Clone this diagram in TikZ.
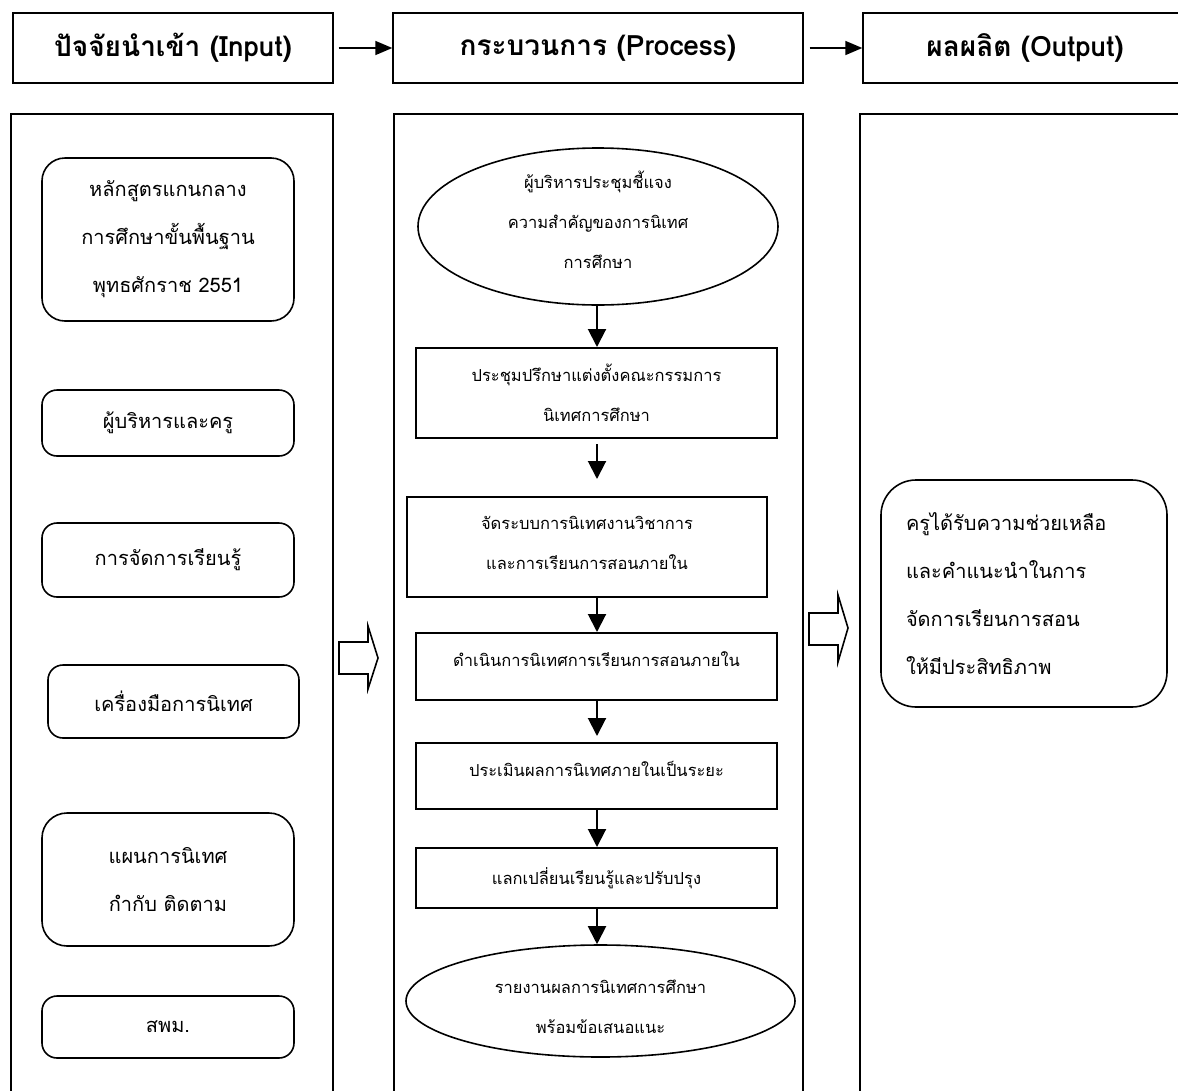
\documentclass[tikz,border=0pt]{standalone}
\usepackage{fontspec}
\setmainfont[Script=Thai]{Loma}
\usetikzlibrary{arrows.meta,shapes.geometric}
\begin{document}
\begin{tikzpicture}[x=1pt,y=-1pt,
  hdr/.style={draw,line width=1.4pt,rectangle,minimum height=70pt,inner sep=0pt,font=\fontsize{28}{32}\selectfont\bfseries},
  panel/.style={draw,line width=1.4pt},
  inbox/.style={draw,line width=1.6pt,inner sep=0pt,align=center,font=\fontsize{20}{48}\selectfont},
  prbox/.style={draw,line width=2pt,rectangle,inner sep=0pt,align=center,font=\fontsize{16.5}{40}\selectfont},
  prell/.style={draw,line width=1.6pt,ellipse,inner sep=0pt},
  prtext/.style={inner sep=0pt,align=center,font=\fontsize{16.5}{40}\selectfont},
  flow/.style={line width=2pt,-{Triangle[width=18pt,length=18pt]}},
  harr/.style={line width=1.6pt,-{Triangle[width=14pt,length=17pt]}},
  blockarr/.style={draw,line width=1.6pt,fill=white}
]
\useasboundingbox (0,0) rectangle (1178,1090);
\begin{scope}
\clip (0,0) rectangle (1178,1090);
% headers
\node[hdr,minimum width=320pt] (hin) at (173,48) {ปัจจัยนำเข้า (Input)};
\node[hdr,minimum width=410pt] (hpr) at (598,48) {กระบวนการ (Process)};
\node[hdr,minimum width=324pt] (hout) at (1025,48) {ผลผลิต (Output)};
\draw[harr] ([xshift=5pt]hin.east) -- (hpr.west);
\draw[harr] ([xshift=6pt]hpr.east) -- (hout.west);
% panels
\draw[panel] (11,1100) -- (11,114) -- (333,114) -- (333,1100);
\draw[panel] (394,1100) -- (394,114) -- (803,114) -- (803,1100);
\draw[panel] (860,1100) -- (860,114) -- (1200,114);
% input boxes
\node[inbox,rounded corners=23pt,minimum width=252pt,minimum height=163pt] (b1) at (168,239.5) {หลักสูตรแกนกลาง\\การศึกษาขั้นพื้นฐาน\\พุทธศักราช 2551};
\node[inbox,rounded corners=15pt,minimum width=252pt,minimum height=66pt] (b2) at (168,423) {ผู้บริหารและครู};
\node[inbox,rounded corners=15pt,minimum width=252pt,minimum height=74pt] (b3) at (168,560) {การจัดการเรียนรู้};
\node[inbox,rounded corners=15pt,minimum width=251pt,minimum height=73pt] (b4) at (173.5,701.5) {เครื่องมือการนิเทศ};
\node[inbox,rounded corners=25pt,minimum width=252pt,minimum height=133pt] (b5) at (168,879.5) {แผนการนิเทศ\\กำกับ ติดตาม};
\node[inbox,rounded corners=15pt,minimum width=252pt,minimum height=62pt] (b6) at (168,1027) {สพม.};
% process
\node[prell,minimum width=360pt,minimum height=157pt] (e1) at (598,226.5) {};
\node[prtext] (t1) at (598,220) {ผู้บริหารประชุมชี้แจง\\ความสำคัญของการนิเทศ\\การศึกษา};
\node[prbox,minimum width=361pt,minimum height=90pt] (m2) at (596.5,393) {ประชุมปรึกษาแต่งตั้งคณะกรรมการ\\นิเทศการศึกษา};
\node[prbox,minimum width=360pt,minimum height=100pt] (m3) at (587,547) {};
\node[prtext] (t3) at (587,543) {จัดระบบการนิเทศงานวิชาการ\\และการเรียนการสอนภายใน};
\node[prbox,minimum width=361pt,minimum height=67pt] (m4) at (596.5,666.5) {};
\node[prtext] (t4) at (596.5,659.5) {ดำเนินการนิเทศการเรียนการสอนภายใน};
\node[prbox,minimum width=361pt,minimum height=66pt] (m5) at (596.5,776) {};
\node[prtext] (t5) at (596.5,769) {ประเมินผลการนิเทศภายในเป็นระยะ};
\node[prbox,minimum width=361pt,minimum height=60pt] (m6) at (596.5,878) {แลกเปลี่ยนเรียนรู้และปรับปรุง};
\node[prell,minimum width=389pt,minimum height=112pt] (e7) at (600.5,1001) {};
\node[prtext] (t7) at (600.5,1007) {รายงานผลการนิเทศการศึกษา\\พร้อมข้อเสนอแนะ};
\draw[flow] (e1.south -| 597,0) -- (m2.north -| 597,0);
\draw[flow] ([yshift=-5pt]m2.south -| 597,0) -- ([yshift=17pt]m3.north -| 597,0);
\draw[flow] (m3.south -| 597,0) -- (m4.north -| 597,0);
\draw[flow] (m4.south -| 597,0) -- ([yshift=6pt]m5.north -| 597,0);
\draw[flow] (m5.south -| 597,0) -- (m6.north -| 597,0);
\draw[flow] (m6.south -| 597,0) -- (e7.north -| 597,0);
% block arrows
\draw[blockarr] (339,642) -- (368,642) -- (368,626) -- (378,658) -- (368,689) -- (368,674) -- (339,674) -- cycle;
\draw[blockarr] (809,613) -- (838,613) -- (838,595) -- (848,628) -- (838,662) -- (838,645) -- (809,645) -- cycle;
% output
\node[draw,line width=1.6pt,rounded corners=35pt,minimum width=286pt,minimum height=227pt,text width=236pt,inner xsep=25pt,inner ysep=0pt,align=left,font=\fontsize{20}{48}\selectfont] (o1) at (1024,593.5) {ครูได้รับความช่วยเหลือ\\และคำแนะนำในการ\\จัดการเรียนการสอน\\ให้มีประสิทธิภาพ};
\end{scope}
\end{tikzpicture}
\end{document}
